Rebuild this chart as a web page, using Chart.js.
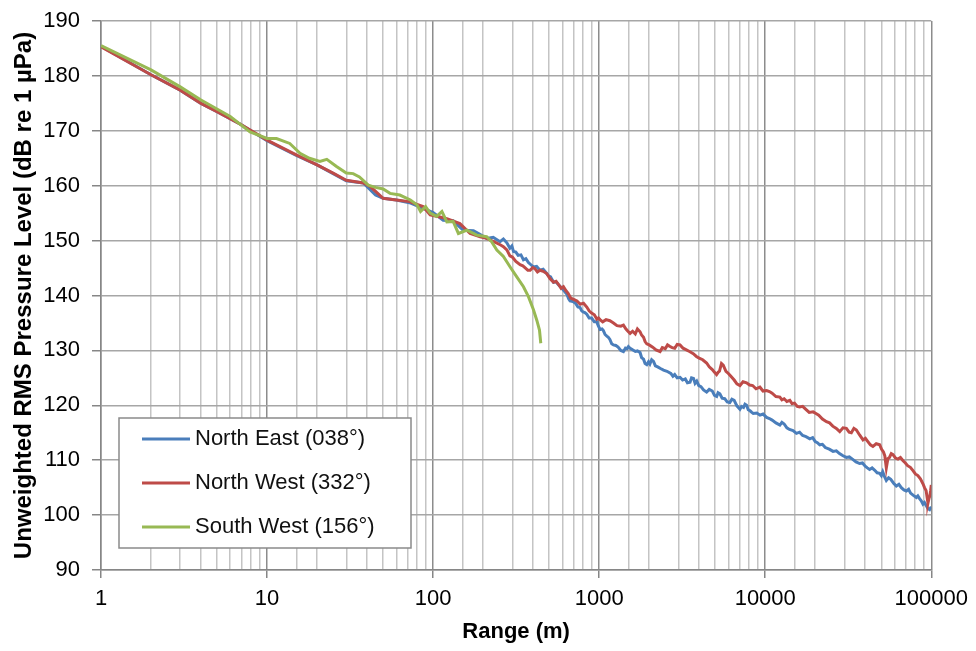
<!DOCTYPE html>
<html>
<head>
<meta charset="utf-8">
<script src="https://cdn.jsdelivr.net/npm/chart.js@4.4.1/dist/chart.umd.min.js"></script>
<style>
  body { margin: 0; background: #fff; }
  canvas { display: block; }
</style>
</head>
<body>
<canvas id="chart" width="976" height="651"></canvas>
<script>
// 距離ごとの RMS 音圧レベル (3方向)

var seriesNames = ['North East (038°)', 'North West (332°)', 'South West (156°)'];
var seriesColors = ['#4a7ebb', '#be4b48', '#98b954'];
var xTickLabels = [1, 10, 100, 1000, 10000, 100000];

var rangeNE = [1, 2, 3, 4, 5, 7, 10, 15, 20, 25, 30, 38, 45, 50, 60, 72, 85, 100, 115, 132,
  152, 175, 190, 210, 230, 253, 265, 278, 290, 298, 305, 315, 325, 338, 350, 362, 375, 388, 402, 420,
  440, 460, 483, 495, 510, 520, 531, 550, 570, 590, 609, 625, 640, 655, 668, 695, 720, 745, 767, 785,
  800, 820, 842, 870, 900, 935, 967, 990, 1014, 1040, 1060, 1085, 1112, 1135, 1160, 1190, 1219, 1260, 1300, 1350,
  1400, 1440, 1470, 1500, 1535, 1590, 1650, 1700, 1763, 1800, 1850, 1890, 1935, 1980, 2020, 2070, 2124, 2180, 2250, 2340,
  2440, 2560, 2700, 2780, 2850, 2950, 3068, 3180, 3300, 3400, 3525, 3600, 3700, 3780, 3870, 3980, 4100, 4250, 4436, 4600,
  4800, 4950, 5100, 5200, 5330, 5500, 5700, 5900, 6120, 6300, 6500, 6750, 7040, 7200, 7400, 7550, 7720, 7900, 8100, 8300,
  8470, 8900, 9300, 9700, 10190, 10600, 11000, 11600, 12250, 12600, 13000, 13500, 14000, 14700, 15420, 16100, 16800, 17600, 18560, 19300,
  20000, 20600, 21300, 22100, 23000, 24300, 25600, 26800, 28000, 29400, 30800, 32100, 33500, 35200, 37000, 38500, 40000, 41200, 42500, 44000,
  45500, 47200, 48900, 50000, 51000, 52300, 53600, 55300, 57000, 59300, 61600, 63800, 66000, 68400, 70800, 73000, 75000, 78000, 81300, 83000,
  85000, 87000, 89100, 91000, 93000, 95300, 97700, 100000];
var levelNE = [185.4, 180.2, 177.4, 175.0, 173.5, 171.1, 168.2, 165.5, 163.8, 162.2, 160.9, 160.5, 158.3, 157.7, 157.4, 156.9, 156.0, 155.1, 153.7, 153.6,
  151.9, 151.8, 151.2, 150.4, 150.6, 149.8, 150.3, 149.6, 148.6, 149.0, 148.0, 147.9, 147.3, 147.4, 146.5, 146.7, 146.0, 145.6, 145.2, 145.3,
  144.6, 144.8, 144.0, 143.6, 143.4, 142.9, 142.4, 142.5, 141.9, 141.5, 141.0, 140.6, 140.2, 139.4, 139.0, 138.9, 138.6, 137.9, 137.8, 137.2,
  137.0, 136.9, 136.6, 135.9, 135.9, 135.2, 135.2, 134.4, 133.8, 133.9, 133.6, 132.9, 132.6, 132.4, 132.0, 131.2, 131.0, 130.9, 130.6, 130.0,
  129.8, 130.4, 130.3, 130.7, 130.4, 130.1, 129.8, 129.9, 129.6, 128.7, 128.4, 127.6, 127.4, 127.9, 127.5, 128.3, 128.0, 127.2, 127.0, 126.7,
  126.4, 126.2, 125.8, 125.3, 125.6, 125.0, 125.1, 124.6, 124.8, 124.1, 124.2, 125.0, 124.9, 124.0, 124.4, 123.6, 123.4, 122.8, 122.4, 122.9,
  122.6, 121.8, 121.6, 122.3, 122.1, 121.3, 121.2, 120.6, 120.5, 121.1, 120.9, 119.9, 119.3, 119.8, 119.6, 120.2, 120.0, 119.2, 119.0, 118.7,
  118.5, 118.6, 118.2, 118.4, 117.8, 117.6, 117.3, 116.8, 116.4, 116.9, 116.6, 115.9, 115.6, 115.4, 114.9, 115.1, 114.5, 114.3, 113.9, 114.1,
  113.4, 113.2, 112.8, 112.9, 112.3, 112.0, 111.6, 111.7, 111.2, 110.8, 110.5, 110.6, 110.2, 109.7, 109.4, 109.5, 108.9, 108.6, 108.3, 108.6,
  108.2, 107.7, 107.6, 107.2, 107.9, 107.0, 106.3, 106.8, 106.5, 105.8, 105.3, 105.6, 105.0, 104.6, 104.4, 104.7, 104.0, 103.6, 103.2, 103.5,
  103.0, 102.6, 102.0, 102.3, 101.8, 101.2, 101.0, 101.5];

var rangeNW = [1, 2, 3, 4, 5, 7, 10, 15, 20, 25, 30, 38, 42, 50, 60, 72, 87, 96, 110, 121,
  145, 167, 192, 210, 232, 255, 265, 278, 290, 300, 315, 334, 347, 360, 372, 384, 398, 410, 425, 440,
  460, 483, 505, 531, 550, 570, 590, 609, 630, 650, 675, 702, 735, 769, 805, 842, 870, 900, 935, 968,
  990, 1012, 1050, 1100, 1160, 1219, 1280, 1350, 1400, 1450, 1490, 1535, 1590, 1650, 1700, 1763, 1800, 1850, 1890, 1935,
  2000, 2100, 2200, 2326, 2400, 2500, 2580, 2672, 2750, 2850, 2950, 3068, 3200, 3350, 3500, 3688, 3850, 4000, 4200, 4436,
  4600, 4800, 4950, 5093, 5200, 5300, 5450, 5585, 5800, 6000, 6250, 6500, 6750, 7040, 7350, 7720, 8050, 8400, 8800, 9290,
  9700, 10190, 10600, 11000, 11600, 12250, 12600, 13000, 13500, 14060, 14500, 15000, 15600, 16140, 16800, 17500, 18400, 19430, 20200, 21000,
  22100, 23370, 24400, 25500, 26800, 28100, 29400, 30800, 32000, 33000, 34200, 35400, 37000, 38800, 40100, 41500, 43000, 44500, 46600, 48900,
  50200, 51500, 52500, 53600, 54800, 56000, 57400, 58800, 60800, 63000, 65200, 67600, 69800, 72000, 74800, 77600, 80200, 83000, 86000, 89100,
  91000, 93000, 94300, 95500, 96800, 98000, 99000, 100000];
var levelNW = [185.3, 180.2, 177.4, 175.0, 173.5, 171.1, 168.3, 165.6, 163.8, 162.3, 161.0, 160.5, 159.8, 157.7, 157.4, 157.1, 156.2, 154.7, 154.3, 154.0,
  153.1, 151.3, 150.7, 150.4, 149.8, 149.2, 148.9, 148.3, 147.2, 147.0, 146.2, 145.6, 145.4, 145.0, 144.6, 144.6, 145.1, 144.9, 144.3, 144.6,
  144.4, 144.0, 143.1, 142.4, 142.6, 142.0, 141.3, 141.6, 140.9, 140.4, 139.5, 139.3, 139.0, 138.4, 138.6, 137.9, 137.2, 136.8, 136.5, 135.7,
  135.9, 135.6, 135.2, 135.6, 135.4, 135.0, 134.5, 134.4, 134.6, 133.9, 133.5, 133.1, 133.5, 133.0, 133.9, 133.4, 132.8, 132.4, 131.6, 131.2,
  131.0, 130.6, 130.1, 129.8, 130.5, 130.3, 131.0, 130.7, 130.5, 130.4, 131.1, 131.0, 130.4, 130.1, 129.8, 129.4, 128.9, 128.6, 128.3, 127.7,
  127.0, 126.5, 126.0, 125.6, 126.0, 126.2, 127.6, 127.3, 126.2, 125.8, 125.2, 124.6, 123.9, 123.6, 124.3, 124.1, 123.7, 123.6, 123.0, 123.3,
  122.6, 122.7, 122.5, 122.2, 121.6, 121.5, 121.0, 121.2, 120.7, 120.9, 120.3, 120.4, 119.8, 119.7, 119.8, 119.3, 118.7, 118.8, 118.5, 118.2,
  117.5, 117.0, 116.8, 116.2, 115.8, 115.2, 115.9, 115.8, 115.1, 115.0, 115.8, 115.5, 114.6, 113.7, 114.0, 113.4, 112.8, 112.5, 113.0, 112.8,
  112.0, 111.5, 110.8, 108.6, 110.3, 110.5, 111.2, 111.0, 110.4, 110.2, 110.5, 109.9, 109.5, 109.0, 108.7, 108.1, 107.5, 107.2, 106.6, 105.7,
  105.0, 104.5, 103.3, 102.2, 103.0, 103.5, 104.4, 105.5];

var rangeSW = [1, 2, 3, 4, 6, 7.9, 10, 11.4, 13.7, 15.8, 18, 20.8, 22.9, 26.2, 30, 33, 36, 40.7, 45, 50,
  55, 63, 73, 80, 84, 90, 96, 105, 113, 121, 132, 142, 160, 183, 210, 225, 242, 265, 291, 319,
  350, 375, 402, 421, 437, 445];
var levelSW = [185.5, 181.1, 178.0, 175.6, 172.6, 169.8, 168.6, 168.6, 167.7, 165.9, 165.0, 164.4, 164.8, 163.5, 162.3, 162.2, 161.6, 160.1, 159.7, 159.4,
  158.6, 158.3, 157.4, 156.5, 155.3, 156.2, 155.0, 154.4, 155.3, 153.4, 153.5, 151.3, 151.9, 151.0, 150.7, 149.8, 148.3, 147.1, 145.2, 143.4,
  141.6, 139.8, 137.4, 135.5, 133.7, 131.3];

function toPoints(xs, ys) {
  return xs.map(function (x, i) { return { x: x, y: ys[i] }; });
}

function isDecade(v) {
  var l = Math.log10(v);
  return Math.abs(l - Math.round(l)) < 1e-9;
}

// 枠付きの凡例をグラフ内に描く
var boxLegend = {
  id: 'boxLegend',
  afterDatasetsDraw: function (chart) {
    var ctx = chart.ctx;
    var area = chart.chartArea;
    var left = area.left + 18, top = area.bottom - 152, w = 292, h = 130;
    ctx.save();
    ctx.fillStyle = '#fff';
    ctx.fillRect(left, top, w, h);
    ctx.strokeStyle = '#8a8a8a';
    ctx.lineWidth = 1.5;
    ctx.strokeRect(left, top, w, h);
    ctx.font = '22px "Liberation Sans", Arial, sans-serif';
    ctx.textBaseline = 'middle';
    chart.data.datasets.forEach(function (ds, i) {
      var y = top + 21 + i * 44;
      ctx.strokeStyle = ds.borderColor;
      ctx.lineWidth = 3;
      ctx.beginPath();
      ctx.moveTo(left + 23, y);
      ctx.lineTo(left + 71, y);
      ctx.stroke();
      ctx.fillStyle = '#111';
      ctx.fillText(ds.label, left + 76, y);
    });
    ctx.restore();
  }
};

var rangeChart = new Chart(document.getElementById('chart'), {
  type: 'line',
  data: {
    datasets: [
      { label: seriesNames[0], data: toPoints(rangeNE, levelNE), borderColor: seriesColors[0], order: 3 },
      { label: seriesNames[1], data: toPoints(rangeNW, levelNW), borderColor: seriesColors[1], order: 2 },
      { label: seriesNames[2], data: toPoints(rangeSW, levelSW), borderColor: seriesColors[2], order: 1 }
    ]
  },
  options: {
    responsive: false,
    animation: false,
    layout: { padding: { left: 10, right: 43, top: 21, bottom: 6 } },
    elements: {
      point: { radius: 0 },
      line: { borderWidth: 3, tension: 0 }
    },
    plugins: {
      legend: { display: false },
      tooltip: { enabled: false }
    },
    scales: {
      x: {
        type: 'logarithmic',
        min: 1,
        max: 100000,
        afterFit: function (scale) { scale.height = 75; },
        border: { color: '#868686', width: 1.5 },
        grid: {
          lineWidth: 1.5,
          color: function (c) { return c.tick && isDecade(c.tick.value) ? '#8c8c8c' : '#c4c4c4'; },
          tickColor: function (c) { return c.tick && isDecade(c.tick.value) ? '#868686' : 'rgba(0,0,0,0)'; },
          tickLength: 8
        },
        ticks: {
          autoSkip: false,
          maxRotation: 0,
          padding: 8,
          color: '#000',
          font: { family: '"Liberation Sans", Arial, sans-serif', size: 22 },
          callback: function (v) { return xTickLabels.indexOf(v) >= 0 || isDecade(v) ? String(v) : ''; }
        },
        title: {
          display: true,
          text: 'Range (m)',
          color: '#000',
          padding: { top: 6, bottom: 0 },
          font: { family: '"Liberation Sans", Arial, sans-serif', size: 22, weight: 'bold' }
        }
      },
      y: {
        min: 90,
        max: 190,
        afterFit: function (scale) {
          scale.width = 91;
          scale.paddingTop = 0;
          scale.paddingBottom = 0;
        },
        border: { color: '#868686', width: 1.5 },
        grid: { color: '#a6a6a6', lineWidth: 1.5, tickLength: 9, tickColor: '#868686' },
        ticks: {
          stepSize: 10,
          padding: 12,
          color: '#000',
          font: { family: '"Liberation Sans", Arial, sans-serif', size: 22 }
        },
        title: {
          display: true,
          text: 'Unweighted RMS Pressure Level (dB re 1 µPa)',
          color: '#000',
          padding: { top: 0, bottom: 0 },
          font: { family: '"Liberation Sans", Arial, sans-serif', size: 24, weight: 'bold' }
        }
      }
    }
  },
  plugins: [boxLegend]
});
</script>
</body>
</html>
